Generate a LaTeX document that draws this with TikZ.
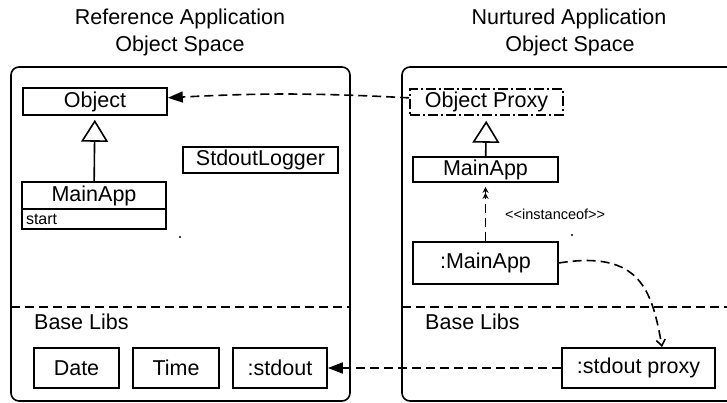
\documentclass[tikz,border=0pt]{standalone}
\usepackage{fontspec}
\setmainfont{Liberation Sans}
\usetikzlibrary{arrows.meta}
\begin{document}
\begin{tikzpicture}[x=1pt,y=-1pt,
  every node/.style={inner sep=0pt, font=\fontsize{21.5}{26}\selectfont},
  lw/.style={line width=1.6pt},
  umlbox/.style={draw, lw, anchor=center},
  dsh/.style={lw, dash pattern=on 9pt off 5pt},
  bigtip/.style={-{Triangle[length=15pt,width=11pt]}},
  gen/.style={lw, -{Triangle[open,length=22pt,width=27pt]}},
  dot/.style={circle, fill, minimum size=2.2pt}
]
\useasboundingbox (0,0) rectangle (727,403);

% titles
\node[anchor=base] (t1a) at (180,25) {Reference Application};
\node[anchor=base] (t1b) at (180,52) {Object Space};
\node[anchor=base] (t2a) at (569,25) {Nurtured Application};
\node[anchor=base] (t2b) at (570,52) {Object Space};

% panels
\draw[lw, rounded corners=8pt] (11,67) rectangle (350,401);
\draw[lw, rounded corners=8pt] (402,67) rectangle (770,401);
\draw[dsh] (11,307) -- (350,307);
\draw[dsh] (402,307) -- (727,307);

% left panel
\node[umlbox, minimum width=144pt, minimum height=27pt] (obj) at (95,101.5) {Object};
\node[umlbox, minimum width=144pt, minimum height=27pt] (mainL) at (94,195.5) {MainApp};
\node[umlbox, minimum height=20pt, text width=136pt, inner xsep=4pt, align=left,
      font=\fontsize{16}{18}\selectfont] (startc) at (94,219) {start};
\node[umlbox, minimum width=155pt, minimum height=26pt] (logger) at (260.5,160) {StdoutLogger};
\node[dot] (dotL) at (180,237) {};
\node[anchor=base west] (blL) at (34,329) {Base Libs};
\node[umlbox, minimum width=85pt, minimum height=40pt] (date) at (76.5,368) {Date};
\node[umlbox, minimum width=86pt, minimum height=40pt] (time) at (176,368) {Time};
\node[umlbox, minimum width=94pt, minimum height=40pt] (so) at (280,368) {:stdout};

\draw[gen, shorten >=4pt] (mainL) -- (obj);

% right panel
\node[draw, lw, dash pattern=on 10pt off 3pt on 2pt off 3pt, minimum width=153pt, minimum height=26pt] (op) at (486.5,102) {Object Proxy};
\node[umlbox, minimum width=145pt, minimum height=25pt] (mainR) at (485.5,169.5) {MainApp};
\node[umlbox, minimum width=145pt, minimum height=42pt] (cmain) at (485.5,263) {:MainApp};
\node[anchor=west, font=\fontsize{14.5}{16}\selectfont] (inst) at (505,214) {<{}<instanceof>{}>};
\node[dot] (dotR) at (572,235) {};
\node[anchor=base west] (blR) at (425,329) {Base Libs};
\node[umlbox, minimum width=153pt, minimum height=40pt] (sp) at (638.5,368) {:stdout proxy};
\coordinate (spin) at (662,347);

\draw[gen, shorten >=5pt] (mainR) -- (op);
\draw[dsh, -{Stealth[length=6pt,width=6pt] Stealth[length=6pt,width=6pt]}, shorten >=4pt] (cmain) -- (mainR);

% cross connectors
\draw[dsh, bigtip] (op) to[bend right=3] (obj);
\draw[dsh, bigtip] (sp) -- (so);
\draw[dsh, -{Straight Barb[length=6pt,width=9pt]}] (cmain.east) .. controls (640,250) and (652,290) .. (spin);
\end{tikzpicture}
\end{document}
